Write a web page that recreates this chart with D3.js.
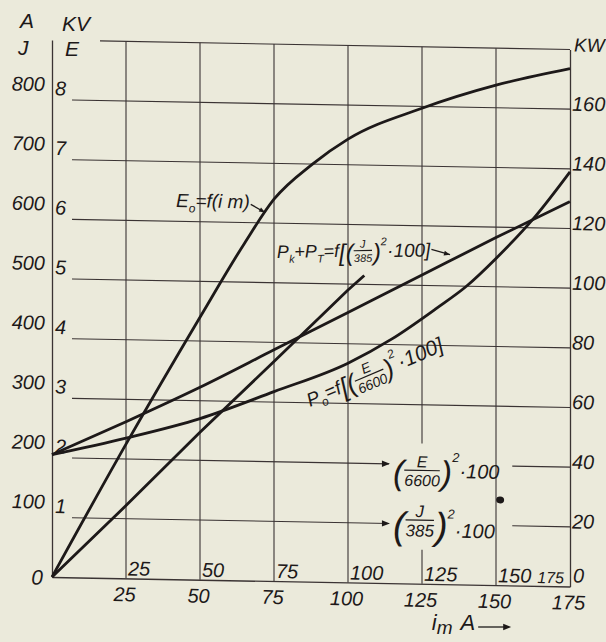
<!DOCTYPE html>
<html>
<head>
<meta charset="utf-8">
<script src="https://cdn.jsdelivr.net/npm/d3@7"></script>
<style>
html, body { margin: 0; padding: 0; background: #ebeadb; }
svg { display: block; }
text { font-family: "Liberation Sans", "DejaVu Sans", sans-serif; font-style: italic; fill: #1d1919; white-space: pre; }
</style>
</head>
<body>
<div id="chart"></div>
<script>
// x axis: magnetising current i_m (A)
const imTicks = [25, 50, 75, 100, 125, 150, 175];
// left scales: J (A) and E (kV), right scale: P (kW)
const ampTicks = [100, 200, 300, 400, 500, 600, 700, 800];
const kvTicks = [1, 2, 3, 4, 5, 6, 7, 8];
const kwTicks = [20, 40, 60, 80, 100, 120, 140, 160];

// E0 = f(im), kV
const eIm = [0, 25, 50, 65, 75, 88, 100, 125, 150, 175];
const eKV = [0, 2.25, 4.4, 5.65, 6.4, 7.0, 7.43, 7.97, 8.38, 8.68];

// J = f(im), A
const jIm = [0, 25, 50, 75, 100, 105.5];
const jA = [0, 122, 247, 368, 490, 515];

// Pk + PT = f[(J/385)^2 * 100], kW
const pkIm = [0, 25, 50, 75, 100, 125, 150, 175];
const pkKW = [41, 52.5, 64.5, 77.5, 90.5, 103.5, 116.5, 129];

// P0 = f[(E/6600)^2 * 100], kW
const p0Im = [0, 25, 50, 75, 100, 115, 130, 140, 150, 163, 175];
const p0KW = [41, 47, 54, 63.5, 73.5, 82, 92.5, 100, 109.5, 123.5, 139];

const W = 606, H = 642;
const SKEW = 1.05;          // the scanned sheet is slightly tilted
const INK = '#1d1919', GRID = '#3a3333';

const x = d3.scaleLinear().domain([0, 175]).range([52, 570]);
const yA = d3.scaleLinear().domain([0, 900]).range([577, 40]);
const yKV = d3.scaleLinear().domain([0, 9]).range(yA.range());
const yKW = d3.scaleLinear().domain([0, 180]).range(yA.range());

const svg = d3.select('#chart').append('svg').attr('width', W).attr('height', H);
svg.append('rect').attr('width', W).attr('height', H).attr('fill', '#ebeadb');

const g = svg.append('g')
    .attr('transform', `translate(${x(0)},0) skewY(${SKEW}) translate(${-x(0)},0)`);

function hline(v, x0, x1) {
    g.append('line')
        .attr('x1', x0).attr('x2', x1)
        .attr('y1', yA(v)).attr('y2', yA(v))
        .attr('stroke', GRID).attr('stroke-width', 1.1);
}

function arrowHead(parent, px, py, angle, size = 7) {
    parent.append('path')
        .attr('d', `M${-size},${-size * 0.4}L0,0L${-size},${size * 0.4}Z`)
        .attr('transform', `translate(${px},${py}) rotate(${angle})`)
        .attr('fill', INK);
}

// horizontal grid, the 100 and 200 lines are broken by the formula labels
const labelBreak = [114.5, 155.5];
ampTicks.forEach(v => {
    if (v === 100 || v === 200) {
        hline(v, 72, x(labelBreak[0]) - 2);
        hline(v, x(labelBreak[1]), x(175));
        arrowHead(g, x(labelBreak[0]) - 1, yA(v), 0, 8);
    } else {
        hline(v, 72, x(175));
    }
});
hline(900, 100, x(175));

// vertical grid
imTicks.filter(v => v < 175).forEach(v => {
    const segs = v === 125 ? [[900, 235], [57, 0]] : [[900, 0]];
    segs.forEach(s => {
        g.append('line')
            .attr('x1', x(v)).attr('x2', x(v))
            .attr('y1', yA(s[0])).attr('y2', yA(s[1]))
            .attr('stroke', GRID).attr('stroke-width', 1.1);
    });
});

// axes
const fixLabels = (sel, dy) => sel.selectAll('text').attr('dy', null).attr('y', dy);

const leftAxis = g.append('g')
    .attr('transform', `translate(${x(0)},0)`)
    .call(d3.axisLeft(yA).tickValues(ampTicks).tickSize(0).tickPadding(7));
fixLabels(leftAxis, -9);

const kvAxis = g.append('g')
    .attr('transform', `translate(${x(0)},0)`)
    .call(d3.axisRight(yKV).tickValues(kvTicks).tickSize(0).tickPadding(3));
kvAxis.select('.domain').remove();
fixLabels(kvAxis, -5);

const rightAxis = g.append('g')
    .attr('transform', `translate(${x(175)},0)`)
    .call(d3.axisRight(yKW).tickValues(kwTicks).tickSize(0).tickPadding(2));
fixLabels(rightAxis, 1);

const bottomAxis = g.append('g')
    .attr('transform', `translate(0,${yA(0)})`)
    .call(d3.axisBottom(x).tickValues(imTicks).tickSize(0).tickSizeOuter(0));
fixLabels(bottomAxis, 23);
bottomAxis.selectAll('text').attr('x', -2);

[leftAxis, kvAxis, rightAxis, bottomAxis].forEach(a => {
    a.selectAll('.domain').attr('stroke', GRID).attr('stroke-width', 1.3);
    a.selectAll('text')
        .style('font-family', '"Liberation Sans", "DejaVu Sans", sans-serif')
        .style('font-style', 'italic')
        .style('font-size', '20px')
        .attr('fill', INK);
});

// inner im labels just above the axis
g.selectAll('.inner').data(imTicks).join('text')
    .attr('x', d => d === 175 ? x(d) - 6 : x(d) + 2)
    .attr('y', yA(0) - 3)
    .attr('text-anchor', d => d === 175 ? 'end' : 'start')
    .style('font-size', d => d === 175 ? '16px' : '20px')
    .text(d => d);
g.append('text').attr('x', x(175) + 3).attr('y', yA(0) - 4).style('font-size', '20px').text('0');
g.append('text').attr('x', x(0) - 9).attr('y', yA(0) + 8)
    .attr('text-anchor', 'end').style('font-size', '21px').text('0');

// unit headers
const head = [['A', 20, 28], ['KV', 62, 31], ['J', 18, 55], ['E', 65, 56]];
svg.selectAll('.head').data(head).join('text')
    .attr('x', d => d[1]).attr('y', d => d[2])
    .style('font-size', '21px')
    .text(d => d[0]);
g.append('text').attr('x', x(175) + 4).attr('y', yKW(180) + 2).style('font-size', '19px').text('KW');

// curves
const curve = (xs, ys, yScale, shape) => d3.line()
    .x(i => x(xs[i])).y(i => yScale(ys[i]))
    .curve(shape)(d3.range(xs.length));

const curves = [
    curve(eIm, eKV, yKV, d3.curveMonotoneX),
    curve(jIm, jA, yA, d3.curveLinear),
    curve(pkIm, pkKW, yKW, d3.curveMonotoneX),
    curve(p0Im, p0KW, yKW, d3.curveMonotoneX)
];
g.selectAll('.curve').data(curves).join('path')
    .attr('d', d => d)
    .attr('fill', 'none')
    .attr('stroke', INK)
    .attr('stroke-width', 2.8)
    .attr('stroke-linejoin', 'round');

// formula labels
function formula(parent, pieces, size) {
    let cx = 0;
    pieces.forEach(p => {
        if (p.frac) {
            const fs = p.fs;
            const num = parent.append('text').attr('y', p.bar - 3).style('font-size', fs + 'px').text(p.frac[0]);
            const den = parent.append('text').attr('y', p.bar + fs * 0.85 + 2).style('font-size', fs + 'px').text(p.frac[1]);
            const w = Math.max(num.node().getComputedTextLength(), den.node().getComputedTextLength());
            num.attr('x', cx + w / 2).attr('text-anchor', 'middle');
            den.attr('x', cx + w / 2).attr('text-anchor', 'middle');
            parent.append('line')
                .attr('x1', cx).attr('x2', cx + w)
                .attr('y1', p.bar).attr('y2', p.bar)
                .attr('stroke', INK).attr('stroke-width', 1.2);
            cx += w + 1;
        } else {
            const t = parent.append('text')
                .attr('x', cx).attr('y', p.dy || 0)
                .style('font-size', (p.fs || size) + 'px')
                .text(p.t);
            cx += t.node().getComputedTextLength() + (p.gap || 0);
        }
    });
    return cx;
}

const eAt = d3.scaleLinear().domain(eIm).range(eKV);
const pkAt = d3.scaleLinear().domain(pkIm).range(pkKW);

// E0 = f(im)
{
    const ox = x(41.9), oy = yKV(6.24);
    const lab = g.append('g').attr('transform', `translate(${ox},${oy})`);
    const w = formula(lab, [{ t: 'E' }, { t: 'o', fs: 12, dy: 5 }, { t: '=f(i m)' }], 19);
    const tx = x(72) - ox, ty = yKV(eAt(72)) - oy;
    lab.append('line').attr('x1', w + 1).attr('y1', -4).attr('x2', tx).attr('y2', ty)
        .attr('stroke', INK).attr('stroke-width', 1.3);
    arrowHead(lab, tx, ty, Math.atan2(ty + 4, tx - w - 1) * 180 / Math.PI, 6);
}

// Pk + PT
{
    const ox = x(76), oy = yKW(108.3);
    const lab = g.append('g').attr('transform', `translate(${ox},${oy}) rotate(-2)`);
    const w = formula(lab, [
        { t: 'P' }, { t: 'k', fs: 11, dy: 5 }, { t: '+P' }, { t: 'T', fs: 11, dy: 5 }, { t: '=f' },
        { t: '[(', fs: 24, dy: 4 }, { frac: ['J', '385'], fs: 11, bar: -6 }, { t: ')', fs: 24, dy: 4 },
        { t: '2', fs: 11, dy: -11 }, { t: '·100]', fs: 19, dy: 1 }
    ], 18);
    const hx = x(134.5) - ox, hy = yKW(pkAt(134.5)) - oy;
    lab.append('line').attr('x1', w + 1).attr('y1', -6).attr('x2', hx).attr('y2', hy)
        .attr('stroke', INK).attr('stroke-width', 1.3);
    arrowHead(lab, hx, hy, Math.atan2(hy + 6, hx - w - 1) * 180 / Math.PI, 6);
}

// P0
{
    const lab = g.append('g').attr('transform', `translate(${x(87.2)},${yKW(58.6)}) rotate(-24)`);
    formula(lab, [
        { t: 'P' }, { t: 'o', fs: 12, dy: 5 }, { t: '=f' },
        { t: '[(', fs: 26, dy: 4 }, { frac: ['E', '6600'], fs: 14, bar: -6 }, { t: ')', fs: 26, dy: 4 },
        { t: '2', fs: 12, dy: -13 }, { t: '·100]', fs: 21, dy: 1 }
    ], 19);
}

// (E/6600)^2*100 on the 200 line, (J/385)^2*100 on the 100 line
{
    const e = g.append('g').attr('transform', `translate(${x(labelBreak[0]) + 2},${yA(200)})`);
    formula(e, [
        { t: '(', fs: 34, dy: 20 }, { frac: ['E', '6600'], fs: 16, bar: 6 }, { t: ')', fs: 34, dy: 20 },
        { t: '2', fs: 13, dy: -3 }, { t: '·100', fs: 20, dy: 13 }
    ], 20);
    const j = g.append('g').attr('transform', `translate(${x(labelBreak[0]) + 2},${yA(100)})`);
    formula(j, [
        { t: '(', fs: 38, dy: 15 }, { frac: ['J', '385'], fs: 17, bar: -4 }, { t: ')', fs: 38, dy: 15 },
        { t: '2', fs: 13, dy: -6 }, { t: '·100', fs: 20, dy: 13 }
    ], 20);
}

// ink blot on the sheet
g.append('ellipse').attr('cx', x(151.4)).attr('cy', yKW(28.6)).attr('rx', 4).attr('ry', 3.5).attr('fill', INK);

// x axis title
{
    const t = svg.append('g').attr('transform', `translate(${x(128.3)},630)`);
    const w = formula(t, [{ t: 'i', fs: 22 }, { t: 'm', fs: 19, dy: 4, gap: 8 }, { t: 'A', fs: 22 }], 22);
    t.append('line').attr('x1', w + 3).attr('x2', w + 34).attr('y1', -3).attr('y2', -3)
        .attr('stroke', INK).attr('stroke-width', 1.3);
    arrowHead(t, w + 36, -3, 0, 8);
}
</script>
</body>
</html>
